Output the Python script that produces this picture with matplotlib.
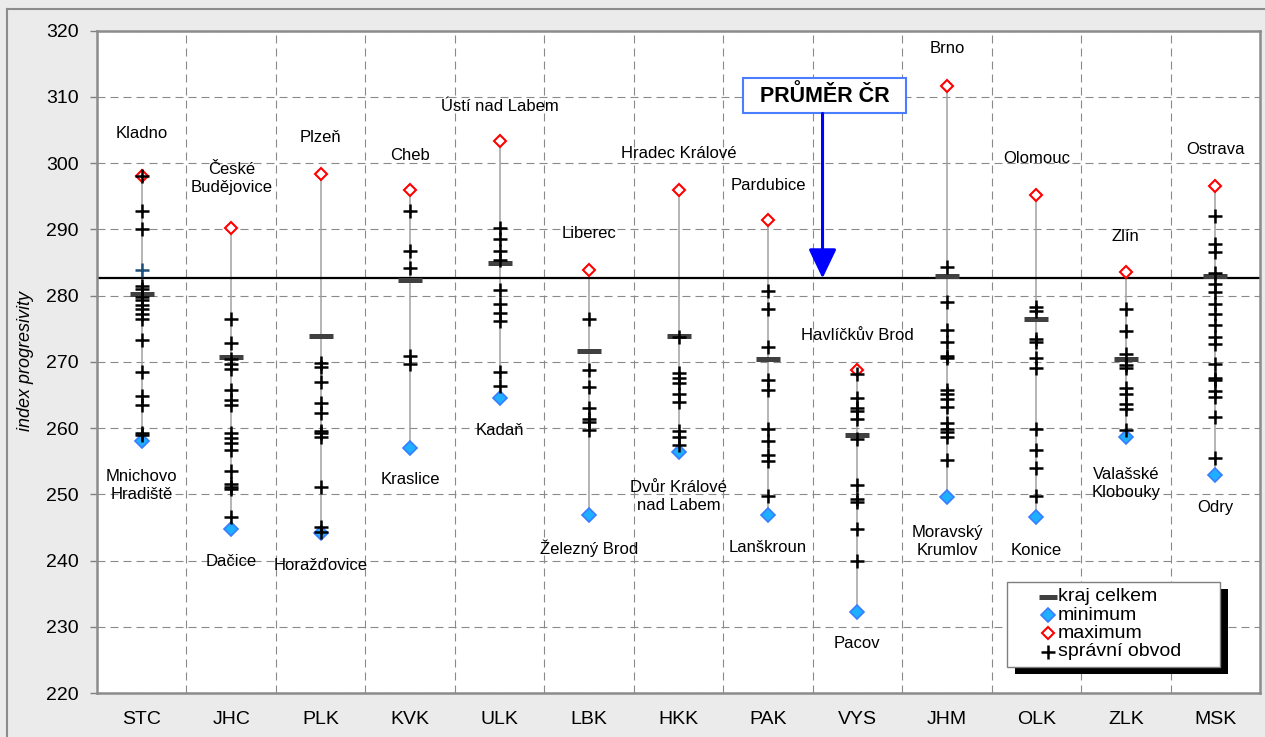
import matplotlib
matplotlib.use('Agg')
import matplotlib.pyplot as plt
from matplotlib.lines import Line2D
from matplotlib.patches import Rectangle

plt.rcParams['font.family'] = ['Liberation Sans', 'DejaVu Sans']

# ---------------- data ----------------
categories = ['STC', 'JHC', 'PLK', 'KVK', 'ULK', 'LBK', 'HKK', 'PAK', 'VYS', 'JHM', 'OLK', 'ZLK', 'MSK']

kraj_celkem = [280.2, 270.7, 273.9, 282.3, 284.9, 271.7, 273.9, 270.4, 259.0, 283.0, 276.4, 270.4, 283.0]
minimum = [258.0, 244.7, 244.1, 257.0, 264.5, 246.8, 256.4, 246.8, 232.3, 249.6, 246.5, 258.6, 252.9]
maximum = [298.1, 290.2, 298.3, 295.9, 303.3, 283.9, 295.9, 291.4, 268.8, 311.7, 295.2, 283.5, 296.6]

min_names = ['Mnichovo\nHradiště', 'Dačice', 'Horažďovice', 'Kraslice', 'Kadaň', 'Železný Brod',
             'Dvůr Králové\nnad Labem', 'Lanškroun', 'Pacov', 'Moravský\nKrumlov', 'Konice',
             'Valašské\nKlobouky', 'Odry']
max_names = ['Kladno', 'České\nBudějovice', 'Plzeň', 'Cheb', 'Ústí nad Labem', 'Liberec',
             'Hradec Králové', 'Pardubice', 'Havlíčkův Brod', 'Brno', 'Olomouc', 'Zlín', 'Ostrava']

obvody_STC = [298.1, 292.8, 290.1, 281.4, 281.0, 279.8, 279.3, 278.6, 277.9, 277.2, 276.5,
              273.3, 268.4, 264.8, 263.5, 259.2, 258.9]
obvody_STC_zvlast = [283.8]
obvody_JHC = [276.4, 272.9, 270.4, 269.6, 268.9, 265.8, 264.3, 263.5, 259.3, 258.5, 257.7,
              256.7, 253.5, 251.6, 251.1, 250.8, 246.5]
obvody_PLK = [269.8, 269.2, 267.0, 263.8, 262.2, 259.5, 259.2, 258.7, 251.1, 245.0, 244.3]
obvody_KVK = [292.8, 286.8, 284.2, 270.9, 269.7]
obvody_ULK = [290.2, 288.6, 286.8, 285.3, 280.8, 278.7, 277.4, 276.2, 268.4, 266.4]
obvody_LBK = [276.5, 268.8, 266.2, 263.1, 261.3, 260.9, 259.7]
obvody_HKK = [273.8, 268.3, 267.6, 266.8, 265.2, 264.0, 259.5, 258.6, 257.5]
obvody_PAK = [280.7, 277.9, 272.2, 267.2, 265.7, 259.9, 258.1, 256.0, 255.0, 249.7]
obvody_VYS = [268.1, 264.6, 263.0, 262.5, 261.3, 258.3, 251.4, 249.3, 248.8, 244.7, 240.0]
obvody_JHM = [284.3, 279.0, 274.8, 273.0, 270.9, 270.6, 265.8, 265.1, 264.4, 263.2, 260.7,
              259.8, 259.4, 258.6, 255.2]
obvody_OLK = [278.2, 277.6, 273.4, 273.0, 270.5, 269.1, 259.9, 256.7, 254.0, 249.7]
obvody_ZLK = [277.9, 274.7, 271.2, 269.5, 269.0, 266.1, 265.1, 263.6, 262.8, 259.7]
obvody_MSK = [292.0, 287.8, 286.6, 283.4, 281.8, 280.6, 278.8, 277.2, 275.5, 273.8, 272.7,
              269.7, 267.6, 267.2, 265.6, 264.7, 261.7, 255.5]

obvody = [obvody_STC, obvody_JHC, obvody_PLK, obvody_KVK, obvody_ULK, obvody_LBK, obvody_HKK,
          obvody_PAK, obvody_VYS, obvody_JHM, obvody_OLK, obvody_ZLK, obvody_MSK]

prumer_CR = 282.6
legend_labels = ['kraj celkem', 'minimum', 'maximum', 'správní obvod']

# ---------------- layout (label offsets in pixels) ----------------
max_label_dy = [42, 49, 37, 35, 35, 36, 37, 35, 34, 37, 36, 36, 36]
min_label_dy = [-44, -32, -32, -32, -32, -33, -45, -32, -32, -45, -33, -46, -32]

W, H = 1265, 737
fig = plt.figure(figsize=(W / 100, H / 100), dpi=100, facecolor='#EBEBEB')
ax_l, ax_r, ax_t, ax_b = 97, 1260, 30.6, 693
ax = fig.add_axes([ax_l / W, 1 - ax_b / H, (ax_r - ax_l) / W, (ax_b - ax_t) / H])
ax.set_facecolor('white')


def px2ax(px, py):
    return ((px - ax_l) / (ax_r - ax_l), (ax_b - py) / (ax_b - ax_t))


xs = list(range(len(categories)))
ax.set_xlim(-0.5, len(categories) - 0.5)
ax.set_ylim(220, 320)
ax.set_xticks(xs)
ax.set_xticklabels(categories, fontsize=14)
ax.set_xticks([i + 0.5 for i in range(len(categories) - 1)], minor=True)
ax.set_yticks(range(220, 321, 10))
ax.tick_params(axis='y', labelsize=14, length=5, width=1, color='#808080', pad=8)
ax.tick_params(axis='x', which='both', length=0, pad=13)

dash = (0, (7.2, 4.5))
ax.grid(axis='y', which='major', linestyle=dash, color='#8A8A8A', linewidth=0.8, zorder=0)
ax.grid(axis='x', which='minor', linestyle=dash, color='#8A8A8A', linewidth=0.8, zorder=0)
ax.grid(axis='x', which='major', visible=False)
ax.set_axisbelow(True)
for s in ax.spines.values():
    s.set_color('#8C8C8C')
    s.set_linewidth(1.8)

# range lines
ax.vlines(xs, minimum, maximum, color='#A0A0A0', linewidth=1.1, zorder=2)
# CR average
ax.axhline(prumer_CR, color='black', linewidth=1.6, zorder=2.5)

max_style = dict(ls='none', marker='D', ms=6.6, mfc='white', mec='#FF0000', mew=1.5)
min_style = dict(ls='none', marker='D', ms=7.0, mfc='#1EB0FF', mec='#3A7CFF', mew=1.2)
kraj_style = dict(ls='none', marker='_', ms=17.5, mew=3.6, color='#404040')
plus_style = dict(ls='none', marker='+', ms=10.5, mew=1.8, color='black')

ax.plot(xs, maximum, zorder=3, **max_style)
ax.plot(xs, minimum, zorder=3, **min_style)
ax.plot(xs, kraj_celkem, zorder=4, **kraj_style)
for i, vals in enumerate(obvody):
    ax.plot([i] * len(vals), vals, zorder=5, **plus_style)
ax.plot([0] * len(obvody_STC_zvlast), obvody_STC_zvlast, ls='none', marker='+', ms=10.5, mew=1.8,
        color='#1D4E79', zorder=5)

# labels
for i in xs:
    ax.annotate(max_names[i], (i, maximum[i]), xytext=(0, max_label_dy[i]), textcoords='offset pixels',
                ha='center', va='center', fontsize=12, linespacing=1.25, zorder=6)
    ax.annotate(min_names[i], (i, minimum[i]), xytext=(0, min_label_dy[i]), textcoords='offset pixels',
                ha='center', va='center', fontsize=12, linespacing=1.25, zorder=6)

# PRŮMĚR ČR box and arrow
box_x0, box_x1 = 6.718, 8.543
box_y0, box_y1 = 307.5, 312.8
ax.add_patch(Rectangle((box_x0, box_y0), box_x1 - box_x0, box_y1 - box_y0, fc='white',
                       ec='#4A7DFF', lw=1.5, zorder=7))
ax.text((box_x0 + box_x1) / 2, (box_y0 + box_y1) / 2, 'PRŮMĚR ČR', ha='center', va='center',
        fontsize=15.5, fontweight='bold', zorder=8)
arrow_x = 7.61
ax.annotate('', xy=(arrow_x, prumer_CR), xytext=(arrow_x, box_y0),
            arrowprops=dict(arrowstyle='-|>,head_length=0.9,head_width=0.43', color='#0000FF',
                            lw=2.2, shrinkA=0, shrinkB=0, mutation_scale=20), zorder=7)

# legend (drawn manually to match the box geometry)
lx0, ly0 = px2ax(1007, 667)
lx1, ly1 = px2ax(1220, 582)
sx0, sy0 = px2ax(1015, 674)
ax.add_patch(Rectangle((sx0, sy0), lx1 - lx0, ly1 - ly0, transform=ax.transAxes, fc='black',
                       ec='none', zorder=9, clip_on=False))
ax.add_patch(Rectangle((lx0, ly0), lx1 - lx0, ly1 - ly0, transform=ax.transAxes, fc='white',
                       ec='#7F7F7F', lw=1.0, zorder=9.5, clip_on=False))
row_y = [596.5, 615, 633.3, 651.7]
leg_styles = [dict(kraj_style, ms=13), min_style, max_style, plus_style]
for yy, lab, st in zip(row_y, legend_labels, leg_styles):
    hx, hy = px2ax(1048, yy)
    ax.plot([hx], [hy], transform=ax.transAxes, clip_on=False, zorder=10, **st)
    tx, ty = px2ax(1058, yy)
    ax.text(tx, ty, lab, transform=ax.transAxes, ha='left', va='center', fontsize=14, zorder=10)

# y label
fig.text(26 / W, 1 - 361 / H, 'index progresivity', rotation=90, style='italic', fontsize=13,
         ha='center', va='center')

# outer frame (top/left)
fig.add_artist(Line2D([7 / W, 1], [1 - 9 / H, 1 - 9 / H], transform=fig.transFigure, color='#8C8C8C', lw=1.5))
fig.add_artist(Line2D([7 / W, 7 / W], [0, 1 - 9 / H], transform=fig.transFigure, color='#8C8C8C', lw=1.5))

fig.savefig('out.png', dpi=100, facecolor=fig.get_facecolor())
